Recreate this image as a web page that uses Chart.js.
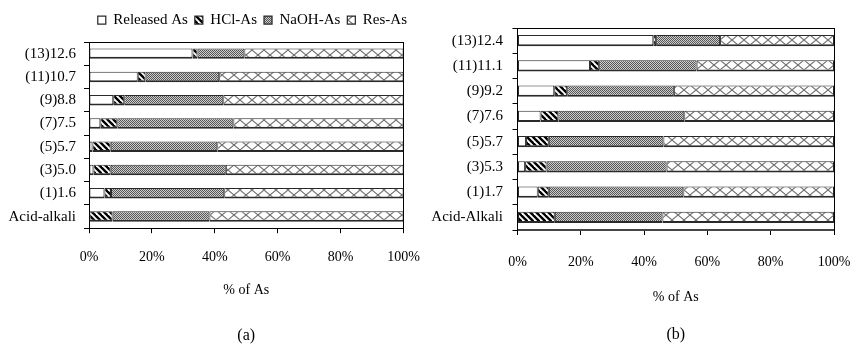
<!DOCTYPE html>
<html>
<head>
<meta charset="utf-8">
<script src="https://cdn.jsdelivr.net/npm/chart.js@4.4.1/dist/chart.umd.min.js"></script>
<style>
  html, body { margin: 0; padding: 0; background: #fff; }
  body { width: 852px; height: 349px; position: relative; overflow: hidden; }
  .panel { position: absolute; top: 0; height: 349px; }
  #wrapA { left: 0; width: 430px; }
  #wrapB { left: 420px; width: 432px; }
</style>
</head>
<body>
<div class="panel" id="wrapA"><canvas id="chartA"></canvas></div>
<div class="panel" id="wrapB"><canvas id="chartB"></canvas></div>
<script>
// Arsenic fractions (% of total As) for each treatment, panel (a)
const categoriesA = ['(13)12.6', '(11)10.7', '(9)8.8', '(7)7.5', '(5)5.7', '(3)5.0', '(1)1.6', 'Acid-alkali'];
const releasedA = [32.9, 15.5, 7.7, 3.6, 1.1, 1.4, 4.9, 0];
const hclA      = [1.6, 2.5, 3.5, 5.4, 5.8, 5.5, 2.1, 7.5];
const naohA     = [14.9, 23.4, 31.5, 36.9, 33.9, 36.6, 36.0, 30.8];
const resA      = [50.6, 58.6, 57.3, 54.1, 59.2, 56.5, 57.0, 61.7];

// Panel (b)
const categoriesB = ['(13)12.4', '(11)11.1', '(9)9.2', '(7)7.6', '(5)5.7', '(3)5.3', '(1)1.7', 'Acid-Alkali'];
const releasedB = [42.9, 22.9, 11.6, 7.3, 2.7, 2.4, 6.4, 0];
const hclB      = [0.9, 2.9, 4.1, 5.6, 7.2, 6.8, 3.5, 11.8];
const naohB     = [20.2, 30.8, 33.7, 39.8, 36.2, 37.9, 42.5, 34.0];
const resB      = [36.0, 43.4, 50.6, 47.3, 53.9, 52.9, 47.6, 54.2];

const seriesNames = ['Released As', 'HCl-As', 'NaOH-As', 'Res-As'];
const xTicks = [0, 20, 40, 60, 80, 100];

const SERIF = "'Liberation Serif', 'Times New Roman', serif";

// Hatch fills for the four fractions
function tile(w, h, paint) {
  const c = document.createElement('canvas');
  c.width = w; c.height = h;
  const g = c.getContext('2d');
  paint(g, w, h);
  return g.createPattern(c, 'repeat');
}
const fillReleased = '#ffffff';
const fillHcl = tile(6, 6, (g, w, h) => {
  g.fillStyle = '#fff'; g.fillRect(0, 0, w, h);
  g.strokeStyle = '#000'; g.lineWidth = 2.4;
  for (let x0 = -w; x0 <= w; x0 += w) {
    g.beginPath(); g.moveTo(x0 - 1, -1); g.lineTo(x0 + w + 1, h + 1); g.stroke();
  }
});
const fillNaoh = tile(2, 2, (g) => {
  g.fillStyle = '#cecece'; g.fillRect(0, 0, 2, 2);
  g.fillStyle = '#555555'; g.fillRect(0, 0, 1, 1); g.fillRect(1, 1, 1, 1);
});
const fillRes = tile(12, 10, (g, w, h) => {
  g.fillStyle = '#fff'; g.fillRect(0, 0, w, h);
  g.strokeStyle = '#707070'; g.lineWidth = 1.1;
  g.beginPath(); g.moveTo(0, 0); g.lineTo(w, h); g.stroke();
  g.beginPath(); g.moveTo(w, 0); g.lineTo(0, h); g.stroke();
});
const fills = [fillReleased, fillHcl, fillNaoh, fillRes];

function makeDatasets(series) {
  return series.map((values, i) => ({
    label: seriesNames[i],
    data: values,
    backgroundColor: fills[i],
    borderColor: '#2a2a2a',
    borderWidth: { top: 1, bottom: 2, left: 1, right: 1 },
    borderSkipped: false,
    barPercentage: 0.45,
    categoryPercentage: 1.0
  }));
}

function makeOptions(cfg) {
  return {
    indexAxis: 'y',
    responsive: true,
    maintainAspectRatio: false,
    animation: false,
    devicePixelRatio: 1,
    layout: { padding: cfg.padding },
    plugins: {
      tooltip: { enabled: false },
      legend: {
        display: cfg.legend,
        position: 'top',
        align: 'end',
        fullSize: true,
        labels: {
          color: '#000',
          font: { family: SERIF, size: 15 },
          boxWidth: 8,
          boxHeight: 8,
          padding: 7
        }
      },
      title: {
        display: true,
        text: cfg.caption,
        position: 'bottom',
        fullSize: false,
        color: '#000',
        font: { family: SERIF, size: 16, weight: 'normal' },
        padding: cfg.captionPad
      }
    },
    scales: {
      x: {
        type: 'linear',
        position: 'bottom',
        stacked: true,
        min: 0,
        max: 100,
        afterBuildTicks: (s) => { s.ticks = xTicks.map(v => ({ value: v })); },
        ticks: {
          color: '#000',
          // tall line box pushes the percent labels down without widening the side overhang
          font: { family: SERIF, size: 14, lineHeight: cfg.xLabelLine },
          padding: 0,
          maxRotation: 0,
          callback: (v) => v + '%'
        },
        grid: { drawOnChartArea: false, drawTicks: true, tickLength: 5, color: '#000' },
        border: { display: true, color: cfg.xAxisColor, width: cfg.xAxisWidth },
        title: {
          display: true,
          text: '% of As',
          color: '#000',
          font: { family: SERIF, size: 14 },
          padding: { top: 0, bottom: 0 }
        }
      },
      xTop: {
        type: 'linear',
        position: 'top',
        min: 0,
        max: 100,
        ticks: { display: false },
        grid: { display: true, drawOnChartArea: false, drawTicks: true, tickLength: cfg.topGap, color: 'rgba(0,0,0,0)' },
        border: { display: true, color: '#000', width: 1 }
      },
      y: {
        type: 'category',
        position: 'left',
        stacked: true,
        afterFit: (s) => { s.width = cfg.yWidth; },
        ticks: {
          color: '#000',
          font: { family: SERIF, size: 15 },
          padding: cfg.yTickPad
        },
        grid: { drawOnChartArea: false, drawTicks: true, tickLength: 5, color: '#000', offset: true },
        border: { display: true, color: '#000', width: 1 }
      },
      yRight: {
        type: 'category',
        position: 'right',
        afterFit: (s) => { s.width = cfg.rightWidth; },
        ticks: { display: false },
        grid: { display: false },
        border: { display: true, color: '#000', width: 1 }
      }
    }
  };
}

new Chart(document.getElementById('chartA'), {
  type: 'bar',
  data: { labels: categoriesA, datasets: makeDatasets([releasedA, hclA, naohA, resA]) },
  options: makeOptions({
    legend: true,
    caption: '(a)',
    captionPad: { top: 27, bottom: 4 },
    padding: { top: 5.5, right: 16, bottom: 0, left: 0 },
    topGap: 4.5,
    yWidth: 89,
    rightWidth: 10.5,
    yTickPad: 8,
    xLabelLine: 48.8 / 14,
    xAxisColor: '#000',
    xAxisWidth: 1
  })
});

new Chart(document.getElementById('chartB'), {
  type: 'bar',
  data: { labels: categoriesB, datasets: makeDatasets([releasedB, hclB, naohB, resB]) },
  options: makeOptions({
    legend: false,
    caption: '(b)',
    captionPad: { top: 19.6, bottom: 4.4 },
    padding: { top: 0, right: 18, bottom: 0, left: 0 },
    topGap: 28,
    yWidth: 97.5,
    rightWidth: 0,
    yTickPad: 9.5,
    xLabelLine: 54 / 14,
    xAxisColor: '#444',
    xAxisWidth: 2
  })
});
</script>
</body>
</html>
